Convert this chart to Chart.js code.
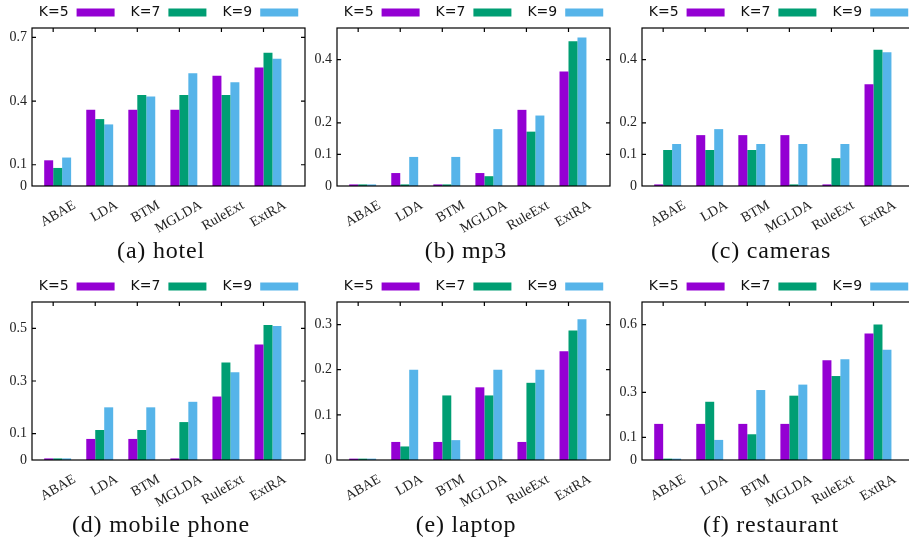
<!DOCTYPE html>
<html>
<head>
<meta charset="utf-8">
<script src="https://cdn.jsdelivr.net/npm/chart.js@4.4.1/dist/chart.umd.min.js"></script>
<style>
  body { margin: 0; width: 909px; height: 543px; overflow: hidden; position: relative; background: #fff; }
  .panel { position: absolute; width: 306px; height: 269px; }
  .panel canvas { position: absolute; left: 0; top: 0; }
  .cap { position: absolute; top: 238px; left: 161px; transform: translateX(-50%); white-space: nowrap;
         font-family: "Liberation Serif", serif; font-size: 24px; line-height: 1; letter-spacing: 0.8px; color: #111; }
</style>
</head>
<body>
<script>
const methods = ['ABAE', 'LDA', 'BTM', 'MGLDA', 'RuleExt', 'ExtRA'];
const kLabels = ['K=5', 'K=7', 'K=9'];
const colors = ['#9400D3', '#009E73', '#56B4E9'];

// (a) hotel
const hotelK5 = [0.121, 0.359, 0.359, 0.359, 0.519, 0.558];
const hotelK7 = [0.085, 0.315, 0.429, 0.429, 0.429, 0.627];
const hotelK9 = [0.134, 0.290, 0.421, 0.531, 0.489, 0.599];
const hotelTicks = [0, 0.1, 0.4, 0.7];

// (b) mp3
const mp3K5 = [0.005, 0.041, 0.005, 0.041, 0.241, 0.362];
const mp3K7 = [0.005, 0.005, 0.005, 0.031, 0.172, 0.458];
const mp3K9 = [0.005, 0.092, 0.092, 0.180, 0.223, 0.470];
const mp3Ticks = [0, 0.1, 0.2, 0.4];

// (c) cameras
const camerasK5 = [0.005, 0.161, 0.161, 0.161, 0.005, 0.322];
const camerasK7 = [0.114, 0.114, 0.114, 0.005, 0.088, 0.431];
const camerasK9 = [0.133, 0.180, 0.133, 0.133, 0.133, 0.423];
const camerasTicks = [0, 0.1, 0.2, 0.4];

// (d) mobile phone
const phoneK5 = [0.006, 0.080, 0.080, 0.006, 0.241, 0.439];
const phoneK7 = [0.006, 0.114, 0.114, 0.144, 0.370, 0.513];
const phoneK9 = [0.006, 0.200, 0.200, 0.221, 0.333, 0.509];
const phoneTicks = [0, 0.1, 0.3, 0.5];

// (e) laptop
const laptopK5 = [0.003, 0.040, 0.040, 0.161, 0.040, 0.241];
const laptopK7 = [0.003, 0.030, 0.143, 0.143, 0.171, 0.287];
const laptopK9 = [0.003, 0.200, 0.044, 0.200, 0.200, 0.312];
const laptopTicks = [0, 0.1, 0.2, 0.3];

// (f) restaurant
const restK5 = [0.160, 0.160, 0.160, 0.160, 0.442, 0.560];
const restK7 = [0.006, 0.258, 0.114, 0.285, 0.372, 0.600];
const restK9 = [0.006, 0.089, 0.310, 0.334, 0.446, 0.489];
const restTicks = [0, 0.1, 0.3, 0.6];

const panels = [
  { cap: '(a) hotel',        series: [hotelK5, hotelK7, hotelK9],       ticks: hotelTicks,   max: 0.744, left: 0,   top: 0 },
  { cap: '(b) mp3',          series: [mp3K5, mp3K7, mp3K9],             ticks: mp3Ticks,     max: 0.5,   left: 305, top: 0 },
  { cap: '(c) cameras',      series: [camerasK5, camerasK7, camerasK9], ticks: camerasTicks, max: 0.5,   left: 610, top: 0 },
  { cap: '(d) mobile phone', series: [phoneK5, phoneK7, phoneK9],       ticks: phoneTicks,   max: 0.6,   left: 0,   top: 274 },
  { cap: '(e) laptop',       series: [laptopK5, laptopK7, laptopK9],    ticks: laptopTicks,  max: 0.35,  left: 305, top: 274 },
  { cap: '(f) restaurant',   series: [restK5, restK7, restK9],          ticks: restTicks,    max: 0.7,   left: 610, top: 274 },
];

// legend drawn as "label  [swatch]" like gnuplot keys
const keyStrip = {
  id: 'keyStrip',
  afterDraw(chart) {
    const { ctx, chartArea: a } = chart;
    const sets = chart.data.datasets;
    ctx.save();
    ctx.font = '14px "DejaVu Sans"';
    ctx.textBaseline = 'middle';
    const gap = 8, box = 38, space = 16;
    const widths = sets.map(d => ctx.measureText(d.label).width + gap + box);
    const total = widths.reduce((s, w) => s + w, 0) + space * (sets.length - 1);
    let x = (a.left + a.right) / 2 - total / 2;
    const cy = 12.5;
    sets.forEach((d, i) => {
      ctx.fillStyle = '#111';
      ctx.fillText(d.label, x, cy);
      const tw = ctx.measureText(d.label).width;
      ctx.fillStyle = d.backgroundColor;
      ctx.fillRect(x + tw + gap, cy - 4, box, 8);
      x += widths[i] + space;
    });
    ctx.restore();
  }
};

// closed frame with inward ticks
const frame = {
  id: 'frame',
  afterDraw(chart) {
    const { ctx, chartArea: a, scales: { x, y } } = chart;
    ctx.save();
    ctx.strokeStyle = '#000';
    ctx.lineWidth = 1.2;
    ctx.strokeRect(a.left, a.top, a.right - a.left, a.bottom - a.top);
    ctx.beginPath();
    y.ticks.forEach(t => {
      if (t.value === 0) return;
      const py = y.getPixelForValue(t.value);
      ctx.moveTo(a.left, py); ctx.lineTo(a.left + 4, py);
      ctx.moveTo(a.right, py); ctx.lineTo(a.right - 4, py);
    });
    const bw = chart.getDatasetMeta(0).data[0].width;
    x.ticks.forEach(t => {
      const px = x.getPixelForValue(t.value) - bw / 2;
      ctx.moveTo(px, a.top); ctx.lineTo(px, a.top + 4);
    });
    ctx.stroke();
    ctx.restore();
  }
};

panels.forEach(p => {
  const div = document.createElement('div');
  div.className = 'panel';
  div.style.left = p.left + 'px';
  div.style.top = p.top + 'px';
  const canvas = document.createElement('canvas');
  canvas.width = 306;
  canvas.height = 269;
  canvas.style.width = '306px';
  canvas.style.height = '269px';
  div.appendChild(canvas);
  const cap = document.createElement('div');
  cap.className = 'cap';
  cap.textContent = p.cap;
  div.appendChild(cap);
  document.body.appendChild(div);

  new Chart(canvas.getContext('2d'), {
    type: 'bar',
    data: {
      datasets: p.series.map((vals, k) => ({
        label: kLabels[k],
        data: vals.map((v, i) => ({ x: i, y: v })),
        backgroundColor: colors[k],
        borderWidth: 0,
        categoryPercentage: 0.64,
        barPercentage: 1,
      }))
    },
    options: {
      responsive: false,
      animation: false,
      layout: { padding: { top: 28, right: 1, left: 0, bottom: 0 } },
      plugins: { legend: { display: false }, tooltip: { enabled: false } },
      scales: {
        x: {
          type: 'linear',
          min: -0.61,
          max: 5.88,
          offset: false,
          grid: { display: false, drawTicks: false },
          border: { display: false },
          afterBuildTicks: s => { s.ticks = methods.map((m, i) => ({ value: i })); },
          afterFit: s => { s.height = 83; },
          ticks: {
            autoSkip: false,
            minRotation: 30,
            maxRotation: 30,
            padding: 11,
            labelOffset: 17,
            color: '#222',
            font: { family: '"Liberation Serif", serif', size: 14 },
            callback: v => methods[v]
          }
        },
        y: {
          min: 0,
          max: p.max,
          grid: { display: false, drawTicks: false },
          border: { display: false },
          afterBuildTicks: s => { s.ticks = p.ticks.map(v => ({ value: v })); },
          afterFit: s => { s.width = 32; },
          ticks: {
            padding: 5,
            color: '#222',
            font: { family: '"Liberation Serif", serif', size: 14 },
            callback: v => String(v)
          }
        }
      }
    },
    plugins: [keyStrip, frame]
  });
});
</script>
</body>
</html>
